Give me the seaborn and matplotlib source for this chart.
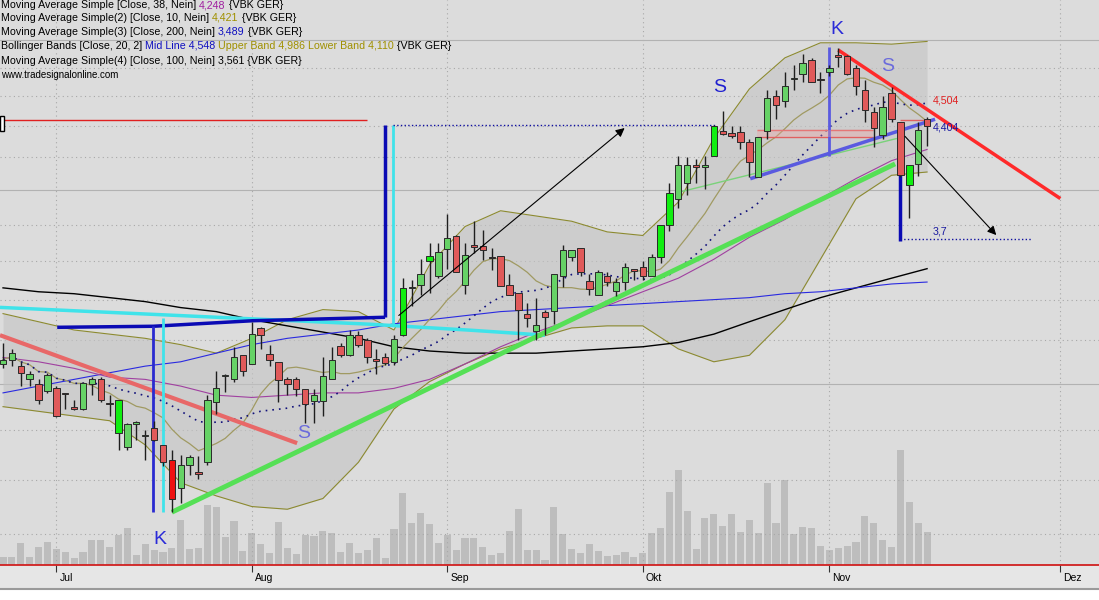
import numpy as np
import pandas as pd
import seaborn as sns
import matplotlib.pyplot as plt
from matplotlib.patches import Rectangle
from matplotlib.lines import Line2D
from matplotlib.transforms import ScaledTranslation

# VBK GER daily candles (EUR)
opens = [3.09, 3.11, 3.08, 3.02, 3.00, 2.97, 2.98, 2.96, 2.90, 2.89,
         3.00, 3.02, 2.915, 2.93, 2.73, 2.828, 2.775, 2.81, 2.74, 2.68,
         2.57, 2.66, 2.63, 2.67, 2.92, 3.035, 3.02, 3.13, 3.09, 3.26,
         3.135, 3.10, 3.02, 3.02, 2.975, 2.925, 2.925, 3.02, 3.175, 3.13,
         3.225, 3.20, 3.11, 3.12, 3.10, 3.225, 3.46, 3.475, 3.60, 3.52,
         3.665, 3.735, 3.475, 3.69, 3.68, 3.62, 3.63, 3.475, 3.435, 3.33,
         3.245, 3.34, 3.345, 3.52, 3.625, 3.67, 3.495, 3.425, 3.52, 3.445,
         3.49, 3.555, 3.57, 3.52, 3.62, 3.80, 3.95, 4.045, 4.155, 4.14,
         4.21, 4.365, 4.355, 4.36, 4.295, 4.08, 4.365, 4.60, 4.565, 4.72,
         4.755, 4.855, 4.715, 4.765, 4.89, 4.885, 4.80, 4.645, 4.49, 4.345,
         4.62, 4.425, 4.03, 4.16, 4.45]
highs = [3.19, 3.16, 3.10, 3.06, 3.02, 3.05, 2.99, 2.96, 2.93, 3.01,
         3.03, 3.03, 2.95, 2.93, 2.83, 2.84, 2.80, 2.84, 2.74, 2.72,
         2.70, 2.70, 2.695, 2.95, 3.06, 3.045, 3.17, 3.13, 3.29, 3.265,
         3.18, 3.10, 3.03, 3.03, 2.975, 2.975, 3.12, 3.17, 3.19, 3.25,
         3.245, 3.21, 3.16, 3.14, 3.225, 3.51, 3.50, 3.61, 3.70, 3.70,
         3.86, 3.74, 3.70, 3.82, 3.77, 3.67, 3.63, 3.53, 3.435, 3.385,
         3.41, 3.35, 3.53, 3.69, 3.66, 3.67, 3.53, 3.555, 3.54, 3.51,
         3.59, 3.56, 3.60, 3.64, 3.80, 4.045, 4.21, 4.20, 4.19, 4.21,
         4.41, 4.50, 4.40, 4.40, 4.315, 4.33, 4.64, 4.645, 4.77, 4.82,
         4.90, 4.87, 4.77, 4.82, 4.94, 4.89, 4.82, 4.715, 4.53, 4.60,
         4.665, 4.43, 4.15, 4.43, 4.46]
lows = [3.07, 3.08, 2.99, 2.99, 2.91, 2.96, 2.855, 2.89, 2.885, 2.885,
        2.95, 2.92, 2.86, 2.72, 2.72, 2.76, 2.68, 2.755, 2.655, 2.48,
        2.515, 2.62, 2.605, 2.66, 2.87, 2.966, 3.01, 3.035, 3.09, 3.16,
        3.08, 2.92, 2.95, 2.945, 2.83, 2.83, 2.86, 3.02, 3.12, 3.125,
        3.17, 3.095, 3.045, 3.085, 3.085, 3.22, 3.37, 3.425, 3.435, 3.51,
        3.56, 3.54, 3.43, 3.645, 3.605, 3.555, 3.47, 3.425, 3.20, 3.265,
        3.20, 3.225, 3.28, 3.465, 3.60, 3.52, 3.425, 3.425, 3.47, 3.42,
        3.45, 3.50, 3.50, 3.52, 3.59, 3.765, 3.895, 3.97, 4.045, 4.01,
        4.21, 4.34, 4.32, 4.25, 4.08, 4.08, 4.315, 4.45, 4.53, 4.645,
        4.70, 4.70, 4.625, 4.74, 4.805, 4.75, 4.61, 4.43, 4.265, 4.315,
        4.425, 4.08, 3.84, 4.085, 4.27]
closes = [3.11, 3.14, 3.05, 3.045, 2.93, 3.04, 2.86, 2.955, 2.89, 3.005,
          3.02, 2.93, 2.91, 2.79, 2.825, 2.832, 2.78, 2.76, 2.67, 2.53,
          2.66, 2.69, 2.625, 2.93, 2.98, 3.04, 3.12, 3.06, 3.23, 3.225,
          3.11, 3.015, 3.00, 2.975, 2.91, 2.95, 3.035, 3.11, 3.13, 3.225,
          3.18, 3.12, 3.105, 3.095, 3.205, 3.46, 3.465, 3.53, 3.63, 3.65,
          3.725, 3.545, 3.635, 3.675, 3.66, 3.615, 3.47, 3.425, 3.35, 3.31,
          3.275, 3.315, 3.53, 3.66, 3.66, 3.54, 3.455, 3.545, 3.49, 3.49,
          3.57, 3.55, 3.52, 3.62, 3.80, 3.985, 4.15, 4.155, 4.14, 4.155,
          4.40, 4.35, 4.335, 4.30, 4.17, 4.33, 4.585, 4.54, 4.67, 4.725,
          4.835, 4.70, 4.71, 4.80, 4.875, 4.755, 4.67, 4.505, 4.39, 4.53,
          4.445, 4.09, 4.15, 4.375, 4.40]
# volume, thousand shares
volume = [83, 77, 217, 83, 177, 227, 160, 133, 67, 133,
          250, 250, 183, 300, 367, 100, 210, 150, 133, 167,
          450, 157, 167, 600, 583, 277, 440, 140, 317, 210,
          117, 433, 167, 107, 300, 290, 343, 323, 133, 217,
          117, 150, 267, 67, 357, 723, 417, 523, 410, 217,
          300, 150, 267, 273, 183, 100, 117, 343, 557, 150,
          150, 50, 583, 310, 157, 117, 210, 140, 93, 100,
          133, 83, 123, 323, 367, 733, 950, 543, 157, 473,
          507, 390, 507, 333, 450, 323, 817, 423, 850, 310,
          377, 367, 190, 150, 170, 190, 233, 490, 417, 250,
          177, 1150, 633, 417, 333]

# indicator lines read every 4th bar
line_idx = list(range(0, 105, 4))
bb_upper = [3.33, 3.29, 3.25, 3.23, 3.21, 3.18, 3.14, 3.21, 3.30, 3.35,
            3.34, 3.25, 3.58, 3.79, 3.88, 3.85, 3.82, 3.76, 3.74, 3.93,
            4.32, 4.65, 4.87, 4.98, 4.98, 4.97, 4.99]
bb_lower = [2.90, 2.88, 2.86, 2.84, 2.74, 2.59, 2.54, 2.50, 2.49, 2.53,
            2.67, 2.89, 3.01, 3.09, 3.16, 3.21, 3.26, 3.27, 3.27, 3.16,
            3.10, 3.13, 3.30, 3.61, 3.95, 4.09, 4.11]
ma38 = [3.12, 3.10, 3.07, 3.03, 3.02, 2.99, 2.95, 2.94, 2.95, 2.96,
        2.96, 2.98, 3.02, 3.09, 3.17, 3.24, 3.30, 3.37, 3.44, 3.51,
        3.61, 3.73, 3.83, 3.95, 4.07, 4.18, 4.25]
ma100 = [3.46, 3.44, 3.43, 3.41, 3.39, 3.36, 3.34, 3.30, 3.27, 3.24,
         3.21, 3.17, 3.15, 3.14, 3.14, 3.14, 3.15, 3.16, 3.17, 3.19,
         3.23, 3.29, 3.35, 3.41, 3.46, 3.51, 3.56]
ma200 = [2.96, 2.99, 3.02, 3.05, 3.08, 3.10, 3.14, 3.18, 3.21, 3.23,
         3.25, 3.28, 3.30, 3.32, 3.34, 3.35, 3.36, 3.37, 3.38, 3.39,
         3.40, 3.41, 3.43, 3.44, 3.46, 3.48, 3.49]

month_pos = [6, 28, 50, 72, 93, 119]
month_labels = ['Jul', 'Aug', 'Sep', 'Okt', 'Nov', 'Dez']

# drawn objects: (bar, price) points, colour, width, style
drawings = [
    ([(-0.34, 3.225), (33.1, 2.747)], '#e86868', 3.0, '-'),
    ([(-0.34, 3.361), (41.3, 3.278), (52.6, 3.249), (61.0, 3.225)], '#3fe3ea', 2.5, '-'),
    ([(6.1, 3.263), (16.9, 3.268), (28.1, 3.295), (43.0, 3.312)], '#0a0ab4', 2.5, '-'),
    ([(16.9, 3.268), (16.9, 2.479)], '#2a2ad0', 2.0, '-'),
    ([(18.0, 3.31), (18.0, 2.479)], '#3fe3ea', 2.0, '-'),
    ([(43.0, 3.312), (43.0, 4.41)], '#0a0ab4', 2.5, '-'),
    ([(43.9, 3.27), (43.9, 4.41)], '#3fe3ea', 2.0, '-'),
    ([(43.9, 4.41), (80.1, 4.41)], '#1010a0', 1.0, ':'),
    ([(-0.34, 4.438), (41.0, 4.438)], '#e02020', 1.0, '-'),
    ([(19.0, 2.479), (100.4, 4.16)], '#55e055', 3.5, '-'),
    ([(76.2, 3.99), (100.6, 4.32)], '#7ad27a', 1.0, '-'),
    ([(84.9, 4.373), (97.9, 4.373)], '#e06060', 1.0, '-'),
    ([(84.9, 4.328), (97.9, 4.328)], '#e06060', 1.0, '-'),
    ([(101.0, 4.438), (104.5, 4.438)], '#e06060', 1.0, '-'),
    ([(84.1, 4.069), (104.9, 4.445)], '#5a5ae0', 2.5, '-'),
    ([(93.0, 4.951), (93.0, 4.208)], '#5a5ae0', 2.0, '-'),
    ([(94.0, 4.927), (119.0, 3.951)], '#ff2a2a', 2.5, '-'),
    ([(101.0, 4.19), (101.0, 3.709)], '#0a0ab4', 2.5, '-'),
    ([(101.0, 3.72), (115.8, 3.72)], '#1010a0', 1.0, ':'),
]
arrows = [((44.3, 3.312), (70.2, 4.399)), ((101.3, 4.347), (112.0, 3.731))]
marks = [('K', 17.7, 2.379, '#2a2ad8'), ('S', 33.8, 2.788, '#6b6bdc'),
         ('S', 80.7, 4.66, '#2020d0'), ('K', 93.8, 5.076, '#2a2ad8'),
         ('S', 99.6, 4.81, '#6b6bdc')]
price_tags = [('4,504', 104.6, 4.57, '#e02020'), ('4,404', 104.6, 4.39, '#1a1aa0'),
              ('3,7', 104.6, 3.76, '#1a1aa0')]

df = pd.DataFrame({'open': opens, 'high': highs, 'low': lows, 'close': closes, 'vol': volume})
df['i'] = np.arange(len(df))
df['ma10'] = df['close'].rolling(10, min_periods=1).mean()
df['ma20'] = df['close'].rolling(20, min_periods=1).mean()
lines = pd.DataFrame({'i': line_idx, 'up': bb_upper, 'lo': bb_lower,
                      'ma38': ma38, 'ma100': ma100, 'ma200': ma200})

FONT = ['Liberation Sans', 'DejaVu Sans']
W, H = 1099, 600
fig = plt.figure(figsize=(W / 100, H / 100), dpi=100, facecolor='white')
rect = [0, 35 / H, 1, 565 / H]
axv = fig.add_axes(rect, facecolor='#dcdcdc')
ax = fig.add_axes(rect, sharex=axv)
ax.patch.set_visible(False)

# volume pane
sns.barplot(x=df['i'], y=df['vol'], native_scale=True, color='#bdbdbd', saturation=1,
            errorbar=None, width=0.8, linewidth=0, ax=axv)
axv.set_ylim(0, max(volume) * 565 / 115)
axv.set_xlabel('')
axv.set_ylabel('')
axv.tick_params(left=False, labelleft=False, bottom=False, labelbottom=False)
for s in axv.spines.values():
    s.set_visible(False)

# price pane
ax.set_yscale('log')
ax.fill_between(lines['i'], lines['lo'], lines['up'], color='#c4c4c4', alpha=0.6, lw=0, zorder=1)
sns.lineplot(x=lines['i'], y=lines['up'], color='#8c8a30', lw=0.8, ax=ax, zorder=2)
sns.lineplot(x=lines['i'], y=lines['lo'], color='#8c8a30', lw=0.8, ax=ax, zorder=2)
sns.lineplot(x=lines['i'], y=lines['ma100'], color='black', lw=1.0, ax=ax, zorder=2)
sns.lineplot(x=lines['i'], y=lines['ma200'], color='#2a2ae0', lw=0.8, ax=ax, zorder=2)
sns.lineplot(x=lines['i'], y=lines['ma38'], color='#a040a0', lw=0.8, ax=ax, zorder=2)
sns.lineplot(x=df['i'], y=df['ma10'], color='#a09a62', lw=0.9, ax=ax, zorder=2)
sns.lineplot(x=df['i'], y=df['ma20'], color='#10107a', lw=1.2, linestyle=(0, (1, 3)), ax=ax, zorder=2)

for pts, col, lw, ls in drawings:
    xs, ys = zip(*pts)
    ax.plot(xs, ys, color=col, lw=lw, ls=ls, zorder=3, solid_capstyle='butt')
ax.fill_between([84.9, 97.9], 4.328, 4.373, color='#f0a0a0', alpha=0.35, lw=0, zorder=3)
ax.add_patch(Rectangle((-0.34, 4.37), 0.45, 0.1, facecolor='white', edgecolor='black', lw=1, zorder=6))
for start, end in arrows:
    ax.annotate('', xy=end, xytext=start, zorder=6,
                arrowprops=dict(arrowstyle='-|>', color='black', lw=0.8, mutation_scale=13))

# candles
up = df['close'] >= df['open']
bright_up = [13, 45, 48, 74, 75, 80, 102]
colors = np.where(up, '#66d266', '#e05a5a').astype(object)
for k in bright_up:
    colors[k] = '#11ee11'
colors[19] = '#ee1111'
bottom = df[['open', 'close']].min(axis=1)
height = (df['close'] - df['open']).abs().clip(lower=0.006)
ax.vlines(df['i'], df['low'], df['high'], color='#1e1e1e', lw=1, zorder=4)
ax.bar(df['i'], height, bottom=bottom, width=0.72, color=list(colors),
       edgecolor='#2a2a2a', lw=0.7, zorder=5)

for txt, x, y, col in marks:
    ax.text(x, y, txt, color=col, fontsize=14, ha='center', va='center', family=FONT, zorder=7)
for txt, x, y, col in price_tags:
    ax.text(x, y, txt, color=col, fontsize=7.7, ha='left', va='center', family=FONT, zorder=7)

# axes, grid
ax.set_ylim(2.292, 5.307)
ax.set_xlim(-0.34, 123.35)
ax.set_yticks([3, 4, 5])
ax.set_yticks([2.4, 2.6, 2.8, 3.2, 3.4, 3.6, 3.8, 4.2, 4.4, 4.6, 4.8], minor=True)
ax.grid(axis='y', which='major', color='#b2b2b2', lw=0.8, ls='-')
ax.grid(axis='y', which='minor', color='#a8a8a8', lw=0.8, ls=(0, (1, 3)))
ax.grid(axis='x', which='major', color='#a8a8a8', lw=0.8, ls=(0, (1, 3)))
ax.set_axisbelow(True)
ax.tick_params(axis='y', which='both', left=False, labelleft=False)
ax.set_xticks(month_pos)
ax.set_xticklabels(month_labels, family=FONT, fontsize=7.5, ha='left')
ax.tick_params(axis='x', direction='out', length=5, width=0.8, color='#333333', pad=1)
for lab in ax.get_xticklabels():
    lab.set_transform(lab.get_transform() + ScaledTranslation(3 / 100, 0, fig.dpi_scale_trans))
ax.set_xlabel('')
ax.set_ylabel('')
for name, s in ax.spines.items():
    s.set_visible(name == 'bottom')
ax.spines['bottom'].set_color('#d02020')
ax.spines['bottom'].set_linewidth(1.3)

# time axis strip
fig.add_artist(Rectangle((0, 11 / H), 1, 24 / H, transform=fig.transFigure,
                         facecolor='#e6e6e6', edgecolor='none', zorder=-1))
fig.add_artist(Line2D([0, 1], [11 / H, 11 / H], transform=fig.transFigure, color='#9a9a9a', lw=1.5))

# header lines
renderer = fig.canvas.get_renderer()
def header(y_px, parts, size=7.7):
    x = 1
    for txt, col in parts:
        t = fig.text(x / W, 1 - y_px / H, txt, color=col, fontsize=size, family=FONT,
                     ha='left', va='center')
        x += t.get_window_extent(renderer).width + 3

header(5.5, [('Moving Average Simple [Close, 38, Nein]', 'black'), ('4,248', '#a020a0'), ('{VBK GER}', 'black')])
header(18, [('Moving Average Simple(2) [Close, 10, Nein]', 'black'), ('4,421', '#a09000'), ('{VBK GER}', 'black')])
header(32, [('Moving Average Simple(3) [Close, 200, Nein]', 'black'), ('3,489', '#1010c0'), ('{VBK GER}', 'black')])
header(46, [('Bollinger Bands [Close, 20, 2]', 'black'), ('Mid Line 4,548', '#1010c0'),
            ('Upper Band 4,986 Lower Band 4,110', '#a09000'), ('{VBK GER}', 'black')])
header(60.5, [('Moving Average Simple(4) [Close, 100, Nein] 3,561 {VBK GER}', 'black')])
header(75, [('www.tradesignalonline.com', 'black')], size=7)

fig.savefig('out.png', dpi=100)
